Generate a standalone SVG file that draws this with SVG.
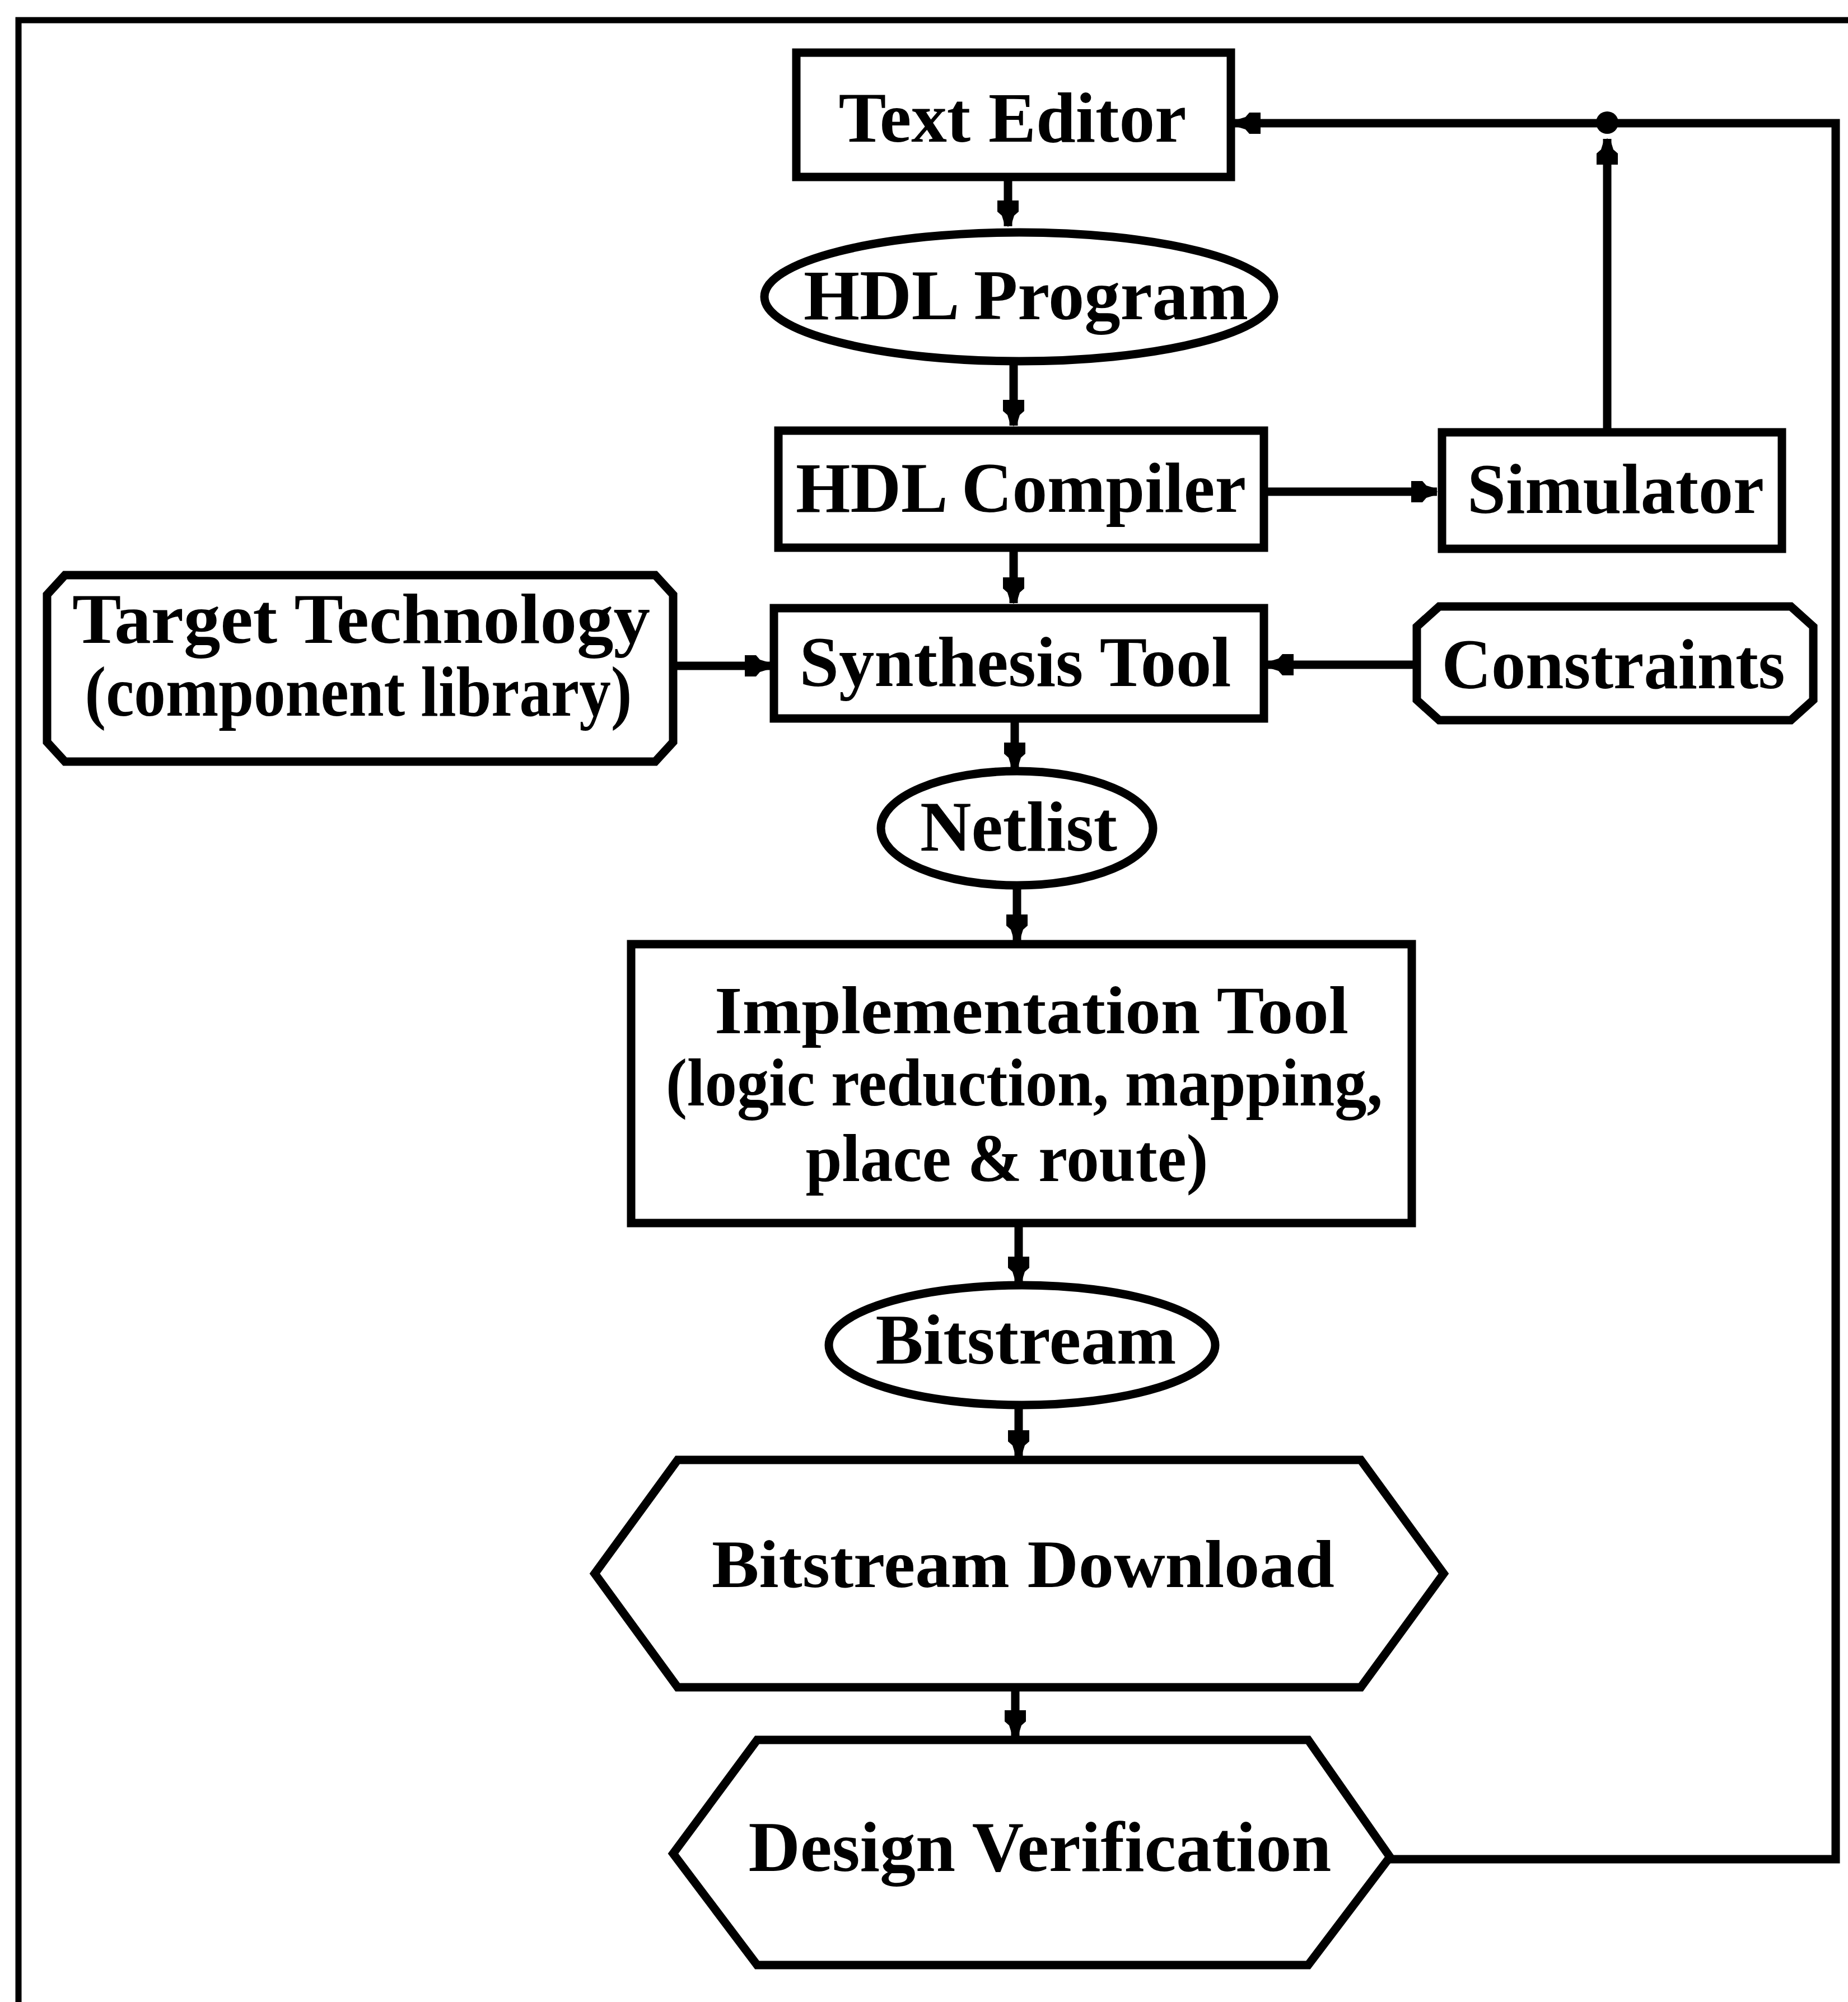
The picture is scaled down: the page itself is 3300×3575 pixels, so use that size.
<svg xmlns="http://www.w3.org/2000/svg" width="3300" height="3575" viewBox="0 0 3300 3575">
<style>
.shape{fill:#fff;stroke:#000;stroke-width:15;stroke-linejoin:miter}
.lbl{font-family:"Liberation Serif","Times New Roman",serif;font-weight:bold;font-size:128px;fill:#000;text-anchor:middle}
.sm{font-size:120px}
.conn{fill:none;stroke:#000;stroke-width:15;marker-end:url(#ah)}
.plain{fill:none;stroke:#000;stroke-width:15}
.frame{fill:none;stroke:#000;stroke-width:11}
</style>
<defs>
<marker id="ah" markerUnits="userSpaceOnUse" viewBox="0 -20 48 40" refX="46" refY="0" markerWidth="48" markerHeight="40" orient="auto">
<path d="M0,-19 L20,-19 L27,-11 L40,-7 L47,0 L40,7 L27,11 L20,19 L0,19 Z" fill="#000"/>
</marker>
</defs>
<rect width="3300" height="3575" fill="#fff"/>
<g id="frame">
<path class="frame" d="M33,3575 L33,36 L3300,36"/>
</g>
<g id="connectors">
<line class="conn" x1="1800" y1="316" x2="1800" y2="404"/>
<line class="conn" x1="1810" y1="645" x2="1810" y2="760"/>
<line class="conn" x1="1810" y1="978" x2="1810" y2="1077"/>
<line class="conn" x1="2257" y1="878" x2="2566" y2="878"/>
<line class="conn" x1="1202" y1="1189" x2="1376" y2="1189"/>
<line class="conn" x1="2530" y1="1187" x2="2264" y2="1187"/>
<line class="conn" x1="1812" y1="1283" x2="1812" y2="1372"/>
<line class="conn" x1="1816" y1="1588" x2="1816" y2="1679"/>
<line class="conn" x1="1819" y1="2184" x2="1819" y2="2290"/>
<line class="conn" x1="1819" y1="2512" x2="1819" y2="2600"/>
<line class="conn" x1="1813" y1="3013" x2="1813" y2="3100"/>
<polyline class="conn" points="2482,3320 3278,3320 3278,220 2205,220"/>
<line class="conn" x1="2870" y1="772" x2="2870" y2="248"/>
<circle cx="2870" cy="219" r="20" fill="#000"/>
</g>
<g id="text-editor">
<rect class="shape" x="1422" y="94" width="776" height="222"/>
<text class="lbl" x="1808" y="253" textLength="621" lengthAdjust="spacingAndGlyphs">Text Editor</text>
</g>
<g id="hdl-program">
<ellipse class="shape" cx="1820" cy="530" rx="455" ry="115"/>
<text class="lbl" x="1832" y="570" textLength="794" lengthAdjust="spacingAndGlyphs">HDL Program</text>
</g>
<g id="hdl-compiler">
<rect class="shape" x="1390" y="769" width="867" height="209"/>
<text class="lbl" x="1823" y="914" textLength="804" lengthAdjust="spacingAndGlyphs">HDL Compiler</text>
</g>
<g id="simulator">
<rect class="shape" x="2575" y="772" width="607" height="208"/>
<text class="lbl" x="2885" y="916" textLength="530" lengthAdjust="spacingAndGlyphs">Simulator</text>
</g>
<g id="target-technology">
<path class="shape" d="M116,1027 L1170,1027 L1202,1062 L1202,1325 L1170,1360 L116,1360 L84,1325 L84,1062 Z"/>
<text class="lbl" x="645" y="1148" textLength="1032" lengthAdjust="spacingAndGlyphs">Target Technology</text>
<text class="lbl" x="640" y="1278" textLength="977" lengthAdjust="spacingAndGlyphs">(component library)</text>
</g>
<g id="synthesis-tool">
<rect class="shape" x="1382" y="1086" width="875" height="197"/>
<text class="lbl" x="1813" y="1225" textLength="771" lengthAdjust="spacingAndGlyphs">Synthesis Tool</text>
</g>
<g id="constraints">
<path class="shape" d="M2570,1083 L3198,1083 L3238,1119 L3238,1250 L3198,1286 L2570,1286 L2530,1250 L2530,1119 Z"/>
<text class="lbl" x="2881" y="1229" textLength="613" lengthAdjust="spacingAndGlyphs">Constraints</text>
</g>
<g id="netlist">
<ellipse class="shape" cx="1816" cy="1479" rx="243" ry="102"/>
<text class="lbl" x="1819" y="1519" textLength="352" lengthAdjust="spacingAndGlyphs">Netlist</text>
</g>
<g id="implementation-tool">
<rect class="shape" x="1127" y="1686" width="1394" height="498"/>
<text class="lbl sm" x="1842" y="1845" textLength="1132" lengthAdjust="spacingAndGlyphs">Implementation Tool</text>
<text class="lbl sm" x="1829" y="1974" textLength="1280" lengthAdjust="spacingAndGlyphs">(logic reduction, mapping,</text>
<text class="lbl sm" x="1798" y="2109" textLength="719" lengthAdjust="spacingAndGlyphs">place &amp; route)</text>
</g>
<g id="bitstream">
<ellipse class="shape" cx="1825" cy="2402" rx="345" ry="107"/>
<text class="lbl" x="1832" y="2435" textLength="537" lengthAdjust="spacingAndGlyphs">Bitstream</text>
</g>
<g id="bitstream-download">
<polygon class="shape" points="1210,2607 2430,2607 2578,2810 2430,3013 1210,3013 1062,2810"/>
<text class="lbl sm" x="1827" y="2834" textLength="1112" lengthAdjust="spacingAndGlyphs">Bitstream Download</text>
</g>
<g id="design-verification">
<polygon class="shape" points="1352,3107 2336,3107 2482,3316 2336,3509 1352,3509 1202,3310"/>
<text class="lbl" x="1857" y="3341" textLength="1041" lengthAdjust="spacingAndGlyphs">Design Verification</text>
</g>
</svg>
